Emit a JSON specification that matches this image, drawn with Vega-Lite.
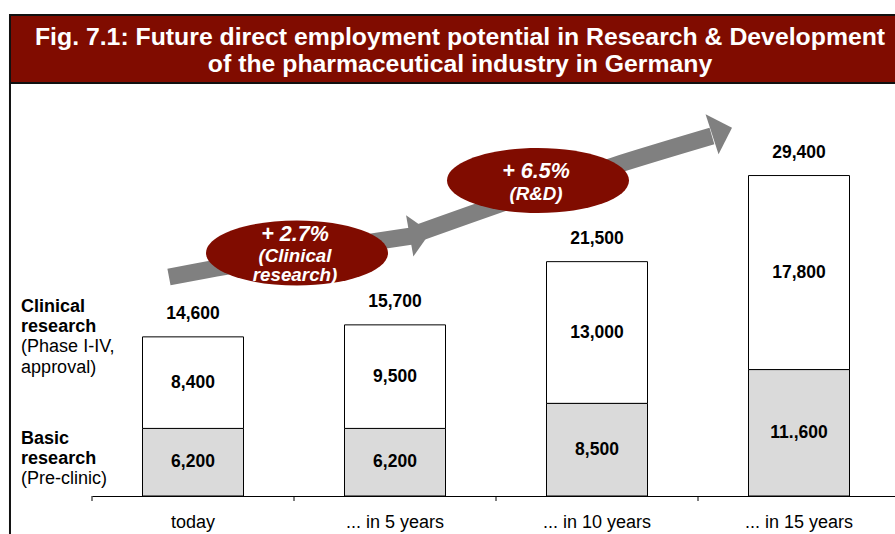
{
  "$schema": "https://vega.github.io/schema/vega-lite/v6.json",
  "width": 803,
  "height": 496,
  "autosize": {"type": "none"},
  "padding": {"left": 92, "top": 0, "right": 0, "bottom": 38},
  "background": "white",
  "config": {"view": {"stroke": null}, "font": "Liberation Sans"},
  "datasets": {
    "bars": [
      {"period": "today", "segment": "Basic research", "ord": 0, "value": 6200, "label": "6,200"},
      {"period": "today", "segment": "Clinical research", "ord": 1, "value": 8400, "label": "8,400"},
      {"period": "... in 5 years", "segment": "Basic research", "ord": 0, "value": 6200, "label": "6,200"},
      {"period": "... in 5 years", "segment": "Clinical research", "ord": 1, "value": 9500, "label": "9,500"},
      {"period": "... in 10 years", "segment": "Basic research", "ord": 0, "value": 8500, "label": "8,500"},
      {"period": "... in 10 years", "segment": "Clinical research", "ord": 1, "value": 13000, "label": "13,000"},
      {"period": "... in 15 years", "segment": "Basic research", "ord": 0, "value": 11600, "label": "11.,600"},
      {"period": "... in 15 years", "segment": "Clinical research", "ord": 1, "value": 17800, "label": "17,800"}
    ],
    "totals": [
      {"period": "today", "total": 14600, "label": "14,600"},
      {"period": "... in 5 years", "total": 15700, "label": "15,700"},
      {"period": "... in 10 years", "total": 21500, "label": "21,500"},
      {"period": "... in 15 years", "total": 29400, "label": "29,400"}
    ],
    "arrows": [
      {"arrow": 1, "x": 0.381, "y": 20092},
      {"arrow": 1, "x": 0.98, "y": 22110},
      {"arrow": 1, "x": 1.584, "y": 23853},
      {"arrow": 2, "x": 1.614, "y": 24128},
      {"arrow": 2, "x": 2.119, "y": 27431},
      {"arrow": 2, "x": 2.579, "y": 30275},
      {"arrow": 2, "x": 3.069, "y": 33028}
    ],
    "bounds": [{"b": 0}, {"b": 1}, {"b": 2}, {"b": 3}]
  },
  "resolve": {"scale": {"x": "independent"}},
  "layer": [
    {
      "data": {"values": [{}]},
      "layer": [
        {
          "mark": {"type": "rect", "fill": "#800c00", "stroke": "#111111", "strokeWidth": 2},
          "encoding": {
            "x": {"datum": -0.406, "type": "quantitative", "scale": {"domain": [0, 4], "range": [0, 808], "nice": false, "zero": false}, "axis": null},
            "x2": {"datum": 4.1},
            "y": {"datum": 37890, "type": "quantitative", "scale": {"domain": [0, 45505], "nice": false, "zero": false}, "axis": null},
            "y2": {"datum": 44128}
          }
        },
        {
          "mark": {"type": "rule", "color": "#111111", "strokeWidth": 2},
          "encoding": {
            "x": {"datum": -0.406, "type": "quantitative", "scale": {"domain": [0, 4], "range": [0, 808], "nice": false, "zero": false}, "axis": null},
            "y": {"datum": 37890, "type": "quantitative", "scale": {"domain": [0, 45505], "nice": false, "zero": false}, "axis": null},
            "y2": {"datum": -3700}
          }
        },
        {
          "data": {"name": "bounds"},
          "mark": {"type": "rule", "color": "#000000", "strokeWidth": 1},
          "encoding": {
            "x": {"field": "b", "type": "quantitative", "scale": {"domain": [0, 4], "range": [0, 808], "nice": false, "zero": false}, "axis": null},
            "y": {"datum": 0, "type": "quantitative", "scale": {"domain": [0, 45505], "nice": false, "zero": false}, "axis": null},
            "y2": {"datum": -460}
          }
        },
        {
          "mark": {"type": "text", "text": ["Fig. 7.1: Future direct employment potential in Research & Development", "of the pharmaceutical industry in Germany"], "lineHeight": 27, "font": "Liberation Sans", "fontSize": 24.8, "fontWeight": "bold", "color": "#ffffff", "align": "center", "baseline": "middle"},
          "encoding": {
            "x": {"datum": 1.822, "type": "quantitative", "scale": {"domain": [0, 4], "range": [0, 808], "nice": false, "zero": false}, "axis": null},
            "y": {"datum": 42060, "type": "quantitative", "scale": {"domain": [0, 45505], "nice": false, "zero": false}, "axis": null}
          }
        },
        {
          "data": {"name": "arrows"},
          "mark": {"type": "line", "color": "#808080", "strokeWidth": 17, "interpolate": "monotone", "strokeCap": "butt"},
          "encoding": {
            "x": {"field": "x", "type": "quantitative", "scale": {"domain": [0, 4], "range": [0, 808], "nice": false, "zero": false}, "axis": null},
            "y": {"field": "y", "type": "quantitative", "scale": {"domain": [0, 45505], "nice": false, "zero": false}, "axis": null},
            "detail": {"field": "arrow", "type": "nominal"}
          }
        },
        {
          "mark": {"type": "point", "shape": "M -0.5 -1 L 0.5 0 L -0.5 1 Z", "size": 1764, "filled": true, "opacity": 1, "color": "#808080", "angle": 350},
          "encoding": {
            "x": {"datum": 1.624, "type": "quantitative", "scale": {"domain": [0, 4], "range": [0, 808], "nice": false, "zero": false}, "axis": null},
            "y": {"datum": 24037, "type": "quantitative", "scale": {"domain": [0, 45505], "nice": false, "zero": false}, "axis": null}
          }
        },
        {
          "mark": {"type": "point", "shape": "M -0.5 -1 L 0.5 0 L -0.5 1 Z", "size": 1764, "filled": true, "opacity": 1, "color": "#808080", "angle": 342},
          "encoding": {
            "x": {"datum": 3.119, "type": "quantitative", "scale": {"domain": [0, 4], "range": [0, 808], "nice": false, "zero": false}, "axis": null},
            "y": {"datum": 33486, "type": "quantitative", "scale": {"domain": [0, 45505], "nice": false, "zero": false}, "axis": null}
          }
        },
        {
          "mark": {"type": "point", "shape": "M -1 0 C -1 -0.197 -0.552 -0.357 0 -0.357 C 0.552 -0.357 1 -0.197 1 0 C 1 0.197 0.552 0.357 0 0.357 C -0.552 0.357 -1 0.197 -1 0 Z", "size": 33124, "filled": true, "opacity": 1, "color": "#800c00", "strokeWidth": 0},
          "encoding": {
            "x": {"datum": 1.015, "type": "quantitative", "scale": {"domain": [0, 4], "range": [0, 808], "nice": false, "zero": false}, "axis": null},
            "y": {"datum": 22294, "type": "quantitative", "scale": {"domain": [0, 45505], "nice": false, "zero": false}, "axis": null}
          }
        },
        {
          "mark": {"type": "point", "shape": "M -1 0 C -1 -0.197 -0.552 -0.357 0 -0.357 C 0.552 -0.357 1 -0.197 1 0 C 1 0.197 0.552 0.357 0 0.357 C -0.552 0.357 -1 0.197 -1 0 Z", "size": 33124, "filled": true, "opacity": 1, "color": "#800c00", "strokeWidth": 0},
          "encoding": {
            "x": {"datum": 2.208, "type": "quantitative", "scale": {"domain": [0, 4], "range": [0, 808], "nice": false, "zero": false}, "axis": null},
            "y": {"datum": 28945, "type": "quantitative", "scale": {"domain": [0, 45505], "nice": false, "zero": false}, "axis": null}
          }
        },
        {
          "mark": {"type": "text", "text": "+ 2.7%", "font": "Liberation Sans", "fontSize": 21.5, "fontWeight": "bold", "fontStyle": "italic", "color": "#ffffff", "align": "center", "baseline": "middle"},
          "encoding": {
            "x": {"datum": 1.005, "type": "quantitative", "scale": {"domain": [0, 4], "range": [0, 808], "nice": false, "zero": false}, "axis": null},
            "y": {"datum": 23945, "type": "quantitative", "scale": {"domain": [0, 45505], "nice": false, "zero": false}, "axis": null}
          }
        },
        {
          "mark": {"type": "text", "text": ["(Clinical", "research)"], "lineHeight": 19, "font": "Liberation Sans", "fontSize": 18.8, "fontWeight": "bold", "fontStyle": "italic", "color": "#ffffff", "align": "center", "baseline": "middle"},
          "encoding": {
            "x": {"datum": 1.005, "type": "quantitative", "scale": {"domain": [0, 4], "range": [0, 808], "nice": false, "zero": false}, "axis": null},
            "y": {"datum": 22018, "type": "quantitative", "scale": {"domain": [0, 45505], "nice": false, "zero": false}, "axis": null}
          }
        },
        {
          "mark": {"type": "text", "text": "+ 6.5%", "font": "Liberation Sans", "fontSize": 21.5, "fontWeight": "bold", "fontStyle": "italic", "color": "#ffffff", "align": "center", "baseline": "middle"},
          "encoding": {
            "x": {"datum": 2.198, "type": "quantitative", "scale": {"domain": [0, 4], "range": [0, 808], "nice": false, "zero": false}, "axis": null},
            "y": {"datum": 29725, "type": "quantitative", "scale": {"domain": [0, 45505], "nice": false, "zero": false}, "axis": null}
          }
        },
        {
          "mark": {"type": "text", "text": "(R&D)", "font": "Liberation Sans", "fontSize": 18.8, "fontWeight": "bold", "fontStyle": "italic", "color": "#ffffff", "align": "center", "baseline": "middle"},
          "encoding": {
            "x": {"datum": 2.198, "type": "quantitative", "scale": {"domain": [0, 4], "range": [0, 808], "nice": false, "zero": false}, "axis": null},
            "y": {"datum": 27706, "type": "quantitative", "scale": {"domain": [0, 45505], "nice": false, "zero": false}, "axis": null}
          }
        },
        {
          "mark": {"type": "text", "text": ["Clinical", "research"], "lineHeight": 20, "font": "Liberation Sans", "fontSize": 18, "fontWeight": "bold", "color": "#000000", "align": "left", "baseline": "middle"},
          "encoding": {
            "x": {"datum": -0.351, "type": "quantitative", "scale": {"domain": [0, 4], "range": [0, 808], "nice": false, "zero": false}, "axis": null},
            "y": {"datum": 17339, "type": "quantitative", "scale": {"domain": [0, 45505], "nice": false, "zero": false}, "axis": null}
          }
        },
        {
          "mark": {"type": "text", "text": ["(Phase I-IV,", "approval)"], "lineHeight": 21, "font": "Liberation Sans", "fontSize": 18, "color": "#000000", "align": "left", "baseline": "middle"},
          "encoding": {
            "x": {"datum": -0.351, "type": "quantitative", "scale": {"domain": [0, 4], "range": [0, 808], "nice": false, "zero": false}, "axis": null},
            "y": {"datum": 13670, "type": "quantitative", "scale": {"domain": [0, 45505], "nice": false, "zero": false}, "axis": null}
          }
        },
        {
          "mark": {"type": "text", "text": ["Basic", "research"], "lineHeight": 20, "font": "Liberation Sans", "fontSize": 18, "fontWeight": "bold", "color": "#000000", "align": "left", "baseline": "middle"},
          "encoding": {
            "x": {"datum": -0.351, "type": "quantitative", "scale": {"domain": [0, 4], "range": [0, 808], "nice": false, "zero": false}, "axis": null},
            "y": {"datum": 5229, "type": "quantitative", "scale": {"domain": [0, 45505], "nice": false, "zero": false}, "axis": null}
          }
        },
        {
          "mark": {"type": "text", "text": "(Pre-clinic)", "font": "Liberation Sans", "fontSize": 18, "color": "#000000", "align": "left", "baseline": "middle"},
          "encoding": {
            "x": {"datum": -0.351, "type": "quantitative", "scale": {"domain": [0, 4], "range": [0, 808], "nice": false, "zero": false}, "axis": null},
            "y": {"datum": 1560, "type": "quantitative", "scale": {"domain": [0, 45505], "nice": false, "zero": false}, "axis": null}
          }
        }
      ]
    },
    {
      "data": {"name": "bars"},
      "layer": [
        {
          "mark": {"type": "bar", "stroke": "#000000", "strokeWidth": 1},
          "encoding": {
            "x": {"field": "period", "type": "nominal", "sort": ["today", "... in 5 years", "... in 10 years", "... in 15 years"], "scale": {"range": [0, 808], "paddingInner": 0.5, "paddingOuter": 0.25}, "axis": {"title": null, "ticks": false, "tickSize": 0, "labelPadding": 17, "labelFont": "Liberation Sans", "labelFontSize": 18, "labelColor": "#000000", "labelAngle": 0, "domainColor": "#000000", "domainWidth": 1}},
            "y": {"field": "value", "type": "quantitative", "stack": "zero", "scale": {"domain": [0, 45505], "nice": false, "zero": false}, "axis": null},
            "color": {"field": "segment", "type": "nominal", "scale": {"domain": ["Basic research", "Clinical research"], "range": ["#dadada", "#ffffff"]}, "legend": null},
            "order": {"field": "ord", "type": "quantitative"}
          }
        },
        {
          "transform": [
            {"stack": "value", "groupby": ["period"], "sort": [{"field": "ord"}], "as": ["v0", "v1"]},
            {"calculate": "(datum.v0 + datum.v1) / 2", "as": "mid"}
          ],
          "mark": {"type": "text", "font": "Liberation Sans", "fontSize": 17.5, "fontWeight": "bold", "color": "#000000", "baseline": "middle"},
          "encoding": {
            "x": {"field": "period", "type": "nominal", "sort": ["today", "... in 5 years", "... in 10 years", "... in 15 years"]},
            "y": {"field": "mid", "type": "quantitative", "scale": {"domain": [0, 45505], "nice": false, "zero": false}, "axis": null},
            "text": {"field": "label"}
          }
        },
        {
          "data": {"name": "totals"},
          "mark": {"type": "text", "font": "Liberation Sans", "fontSize": 17.5, "fontWeight": "bold", "color": "#000000", "baseline": "middle", "dy": -23},
          "encoding": {
            "x": {"field": "period", "type": "nominal", "sort": ["today", "... in 5 years", "... in 10 years", "... in 15 years"]},
            "y": {"field": "total", "type": "quantitative", "scale": {"domain": [0, 45505], "nice": false, "zero": false}, "axis": null},
            "text": {"field": "label"}
          }
        }
      ]
    }
  ]
}
